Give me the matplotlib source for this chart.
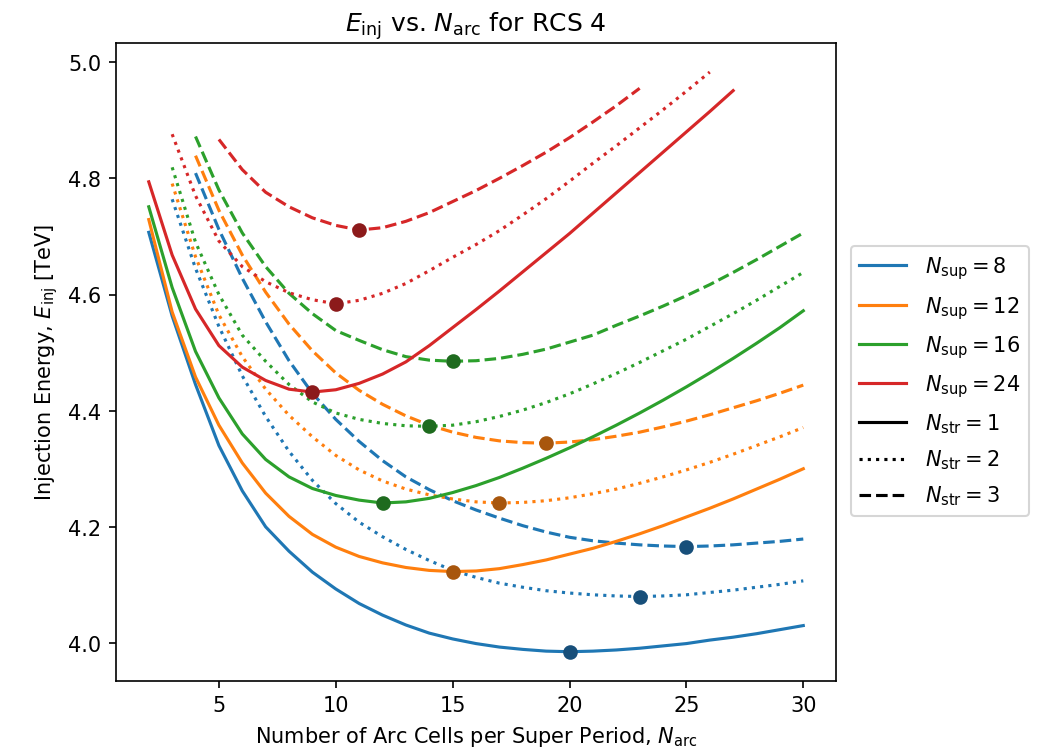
import numpy as np
import matplotlib
matplotlib.use("Agg")
import matplotlib.pyplot as plt
from matplotlib.lines import Line2D

# --- Datos (E_inj en TeV, N_arc enteros) ---
n_sup = [8, 12, 16, 24]
n_str = [1, 2, 3]

# primer N_arc de cada curva [n_sup][n_str]
n_first = {8: [2, 3, 4], 12: [2, 3, 4], 16: [2, 3, 4], 24: [2, 3, 5]}

e_8_1 = [4.707, 4.563, 4.445, 4.340, 4.262, 4.200, 4.158, 4.122, 4.093, 4.068,
         4.048, 4.031, 4.017, 4.007, 3.999, 3.993, 3.989, 3.986, 3.985, 3.986,
         3.988, 3.991, 3.995, 3.999, 4.005, 4.010, 4.016, 4.023, 4.030]
e_8_2 = [4.764, 4.645, 4.545, 4.460, 4.390, 4.330, 4.280, 4.240, 4.208, 4.183,
         4.161, 4.142, 4.125, 4.113, 4.103, 4.096, 4.090, 4.086, 4.083, 4.081,
         4.080, 4.081, 4.083, 4.087, 4.091, 4.096, 4.101, 4.107]
e_8_3 = [4.809, 4.712, 4.628, 4.553, 4.486, 4.430, 4.385, 4.347, 4.314, 4.286,
         4.264, 4.245, 4.229, 4.215, 4.202, 4.191, 4.182, 4.176, 4.172, 4.169,
         4.167, 4.166, 4.167, 4.169, 4.172, 4.175, 4.179]

e_12_1 = [4.729, 4.570, 4.458, 4.375, 4.310, 4.258, 4.218, 4.187, 4.165, 4.149,
          4.138, 4.130, 4.125, 4.123, 4.124, 4.128, 4.135, 4.143, 4.153, 4.163,
          4.175, 4.188, 4.202, 4.217, 4.232, 4.248, 4.265, 4.282, 4.300]
e_12_2 = [4.791, 4.665, 4.565, 4.493, 4.437, 4.392, 4.355, 4.323, 4.298, 4.279,
          4.265, 4.255, 4.248, 4.243, 4.241, 4.242, 4.245, 4.250, 4.257, 4.265,
          4.275, 4.286, 4.298, 4.311, 4.325, 4.340, 4.355, 4.371]
e_12_3 = [4.839, 4.745, 4.668, 4.604, 4.549, 4.503, 4.465, 4.435, 4.411, 4.391,
          4.375, 4.363, 4.354, 4.348, 4.345, 4.344, 4.346, 4.350, 4.356, 4.363,
          4.372, 4.382, 4.393, 4.405, 4.417, 4.430, 4.444]

e_16_1 = [4.751, 4.612, 4.502, 4.422, 4.360, 4.316, 4.286, 4.266, 4.254, 4.246,
          4.241, 4.243, 4.249, 4.259, 4.271, 4.285, 4.301, 4.318, 4.336, 4.355,
          4.375, 4.396, 4.418, 4.441, 4.465, 4.490, 4.516, 4.543, 4.572]
e_16_2 = [4.819, 4.690, 4.600, 4.530, 4.485, 4.445, 4.415, 4.396, 4.385, 4.378,
          4.374, 4.373, 4.375, 4.381, 4.390, 4.401, 4.414, 4.429, 4.446, 4.464,
          4.483, 4.503, 4.523, 4.545, 4.567, 4.590, 4.614, 4.638]
e_16_3 = [4.872, 4.780, 4.706, 4.648, 4.602, 4.567, 4.538, 4.521, 4.505, 4.493,
          4.487, 4.485, 4.486, 4.490, 4.497, 4.506, 4.518, 4.530, 4.547, 4.563,
          4.580, 4.598, 4.617, 4.638, 4.660, 4.683, 4.706]

e_24_1 = [4.794, 4.668, 4.575, 4.512, 4.475, 4.452, 4.437, 4.432, 4.436, 4.447,
          4.463, 4.484, 4.512, 4.543, 4.574, 4.606, 4.639, 4.672, 4.705, 4.740,
          4.775, 4.810, 4.845, 4.880, 4.915, 4.951]
e_24_2 = [4.876, 4.770, 4.692, 4.648, 4.622, 4.603, 4.591, 4.584, 4.590, 4.602,
          4.619, 4.641, 4.664, 4.686, 4.710, 4.737, 4.765, 4.795, 4.826, 4.856,
          4.887, 4.918, 4.950, 4.983]
e_24_3 = [4.867, 4.815, 4.776, 4.751, 4.732, 4.719, 4.711, 4.715, 4.726, 4.741,
          4.760, 4.779, 4.800, 4.822, 4.845, 4.870, 4.897, 4.925, 4.955]

curvas = {
    8: [e_8_1, e_8_2, e_8_3],
    12: [e_12_1, e_12_2, e_12_3],
    16: [e_16_1, e_16_2, e_16_3],
    24: [e_24_1, e_24_2, e_24_3],
}

colores = {8: "C0", 12: "C1", 16: "C2", 24: "C3"}
colores_min = {8: "#174f7a", 12: "#a8560d", 16: "#1e6b1e", 24: "#8c1a1b"}
estilos = ["-", ":", "--"]

# --- Grafico ---
fig = plt.figure(figsize=(6.92, 5.033), dpi=150)
ax = fig.add_axes([0.1118, 0.0971, 0.6936, 0.8446])

for sup in n_sup:
    for k, s in enumerate(n_str):
        e = np.array(curvas[sup][k])
        n = np.arange(n_first[sup][k], n_first[sup][k] + len(e))
        ax.plot(n, e, color=colores[sup], linestyle=estilos[k], lw=1.5)
        i = np.argmin(e)
        ax.plot(n[i], e[i], "o", color=colores_min[sup], ms=6, zorder=5)

ax.set_title(r"$E_\mathrm{inj}$ vs. $N_\mathrm{arc}$ for RCS 4")
ax.set_xlabel(r"Number of Arc Cells per Super Period, $N_\mathrm{arc}$")
ax.set_ylabel(r"Injection Energy, $E_\mathrm{inj}$ [TeV]")
ax.set_xticks([5, 10, 15, 20, 25, 30])
ax.set_yticks([4.0, 4.2, 4.4, 4.6, 4.8, 5.0])

handles = [Line2D([], [], color=colores[sup], lw=1.5,
                  label=r"$N_\mathrm{sup} = %d$" % sup) for sup in n_sup]
handles += [Line2D([], [], color="k", lw=1.5, linestyle=estilos[k],
                   label=r"$N_\mathrm{str} = %d$" % s) for k, s in enumerate(n_str)]
ax.legend(handles=handles, loc="center left", bbox_to_anchor=(1.021, 0.47),
          borderaxespad=0, labelspacing=0.6, handlelength=2.25, handletextpad=0.9)

fig.savefig("out.png", dpi=150)
